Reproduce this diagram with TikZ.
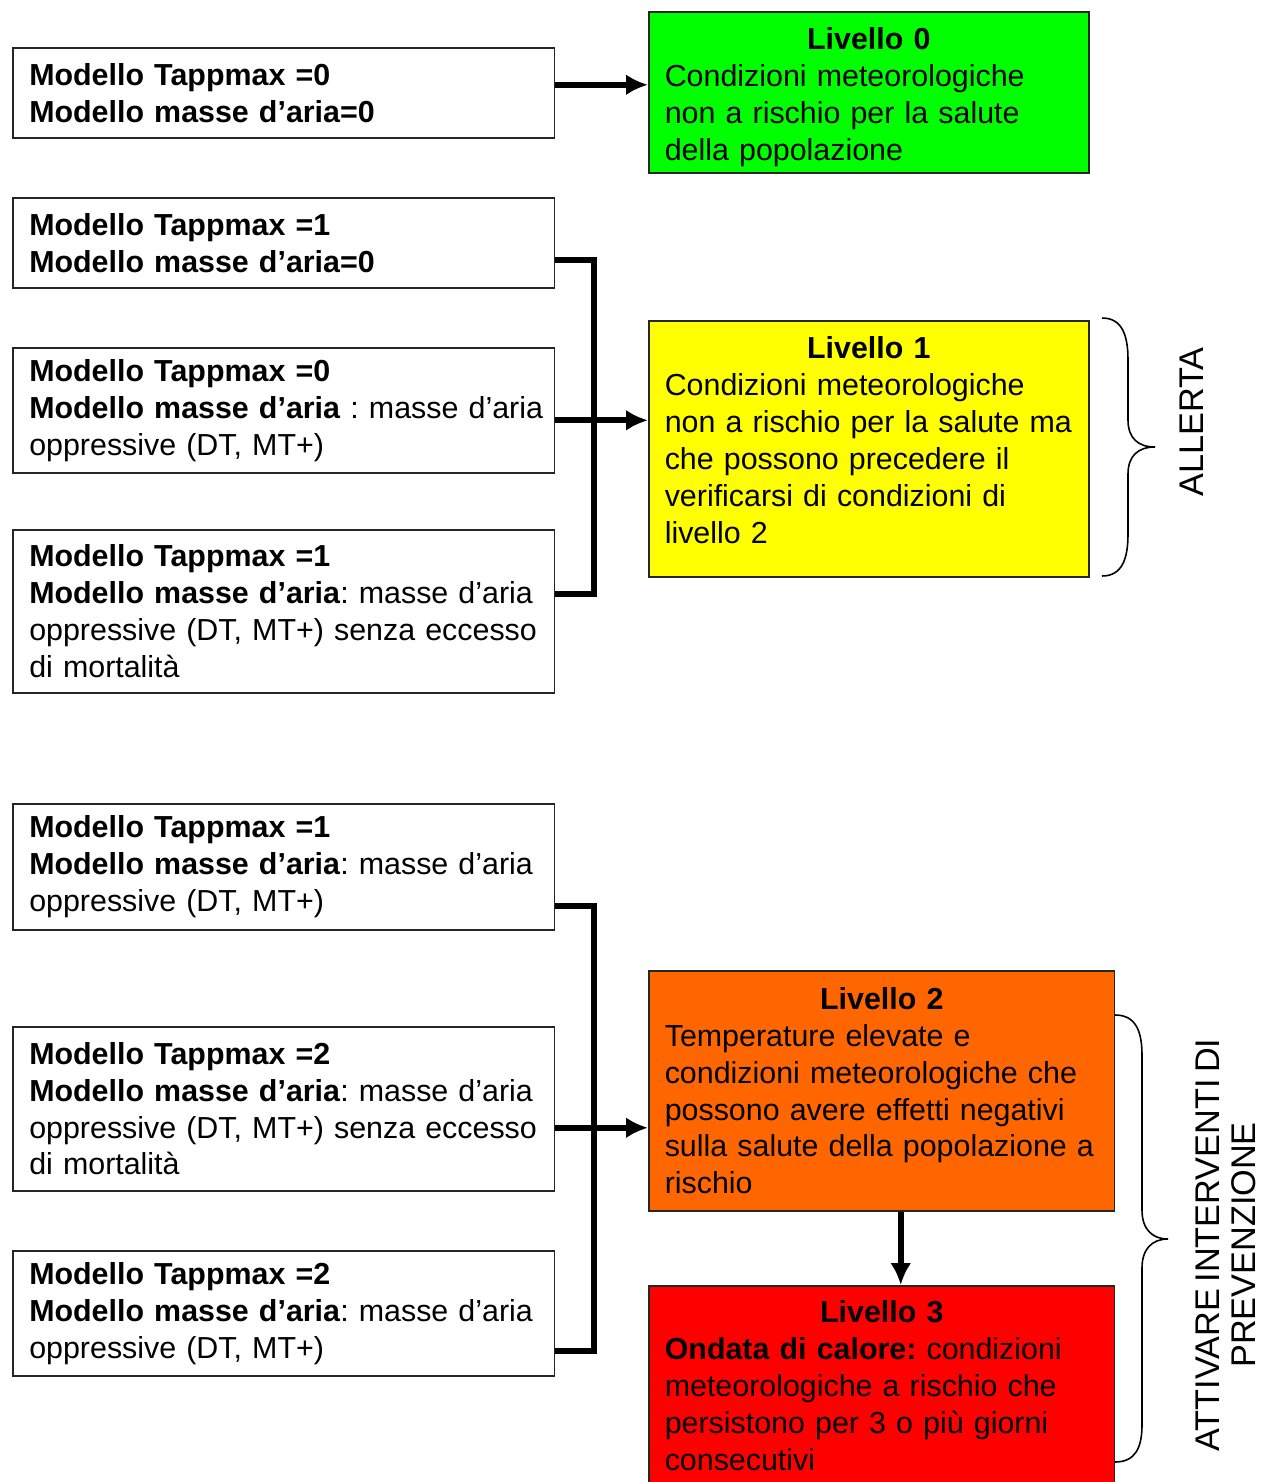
\documentclass[tikz,border=0pt]{standalone}
\usepackage{fontspec}
\setmainfont{Liberation Sans}[WordSpace=0.7]
\usetikzlibrary{arrows.meta,calc}
\definecolor{LevZeroClr}{rgb}{0,1,0}
\definecolor{LevOneClr}{rgb}{1,1,0}
\definecolor{LevTwoClr}{rgb}{1,0.4,0}
\definecolor{LevThreeClr}{rgb}{1,0,0}

\begin{document}
\frenchspacing
\begin{tikzpicture}[x=0.02cm,y=-0.02cm,
  font=\fontsize{17.3}{21}\selectfont\frenchspacing,
  modbox/.style={draw=black!85,line width=0.9pt,anchor=north west,align=left,
    inner xsep=0.33cm,inner ysep=0pt,text width=10.18cm,minimum width=10.84cm},
  levbox/.style={modbox,inner xsep=0.32cm},
  bar/.style={line width=3.3pt,line join=miter},
  conn/.style={bar,-{Latex[length=0.44cm,width=0.42cm]}},
  brc/.style={line width=0.9pt}]
\useasboundingbox (0,0) rectangle (1265,1482);
\clip (0,0) rectangle (1265,1482);

% left column
\node[modbox,minimum height=1.8cm] (a) at (12,47)
  {\textbf{Modello Tappmax =0}\\\textbf{Modello masse d’aria=0}};
\node[modbox,minimum height=1.8cm] (b) at (12,197)
  {\textbf{Modello Tappmax =1}\\\textbf{Modello masse d’aria=0}};
\node[modbox,minimum height=2.5cm] (c) at (12,347)
  {\textbf{Modello Tappmax =0}\\\mbox{\textbf{Modello masse d’aria} : masse d’aria}\\oppressive (DT, MT+)};
\node[modbox,minimum height=3.26cm] (d) at (12,529)
  {\textbf{Modello Tappmax =1}\\\mbox{\textbf{Modello masse d’aria}: masse d’aria}\\\mbox{oppressive (DT, MT+) senza eccesso}\\di mortalità};
\node[modbox,minimum height=2.52cm] (e) at (12,803)
  {\textbf{Modello Tappmax =1}\\\mbox{\textbf{Modello masse d’aria}: masse d’aria}\\oppressive (DT, MT+)};
\node[modbox,minimum height=3.28cm] (f) at (12,1026)
  {\textbf{Modello Tappmax =2}\\\mbox{\textbf{Modello masse d’aria}: masse d’aria}\\\mbox{oppressive (DT, MT+) senza eccesso}\\di mortalità};
\node[modbox,minimum height=2.5cm] (g) at (12,1250)
  {\textbf{Modello Tappmax =2}\\\mbox{\textbf{Modello masse d’aria}: masse d’aria}\\oppressive (DT, MT+)};

% levels
\node[levbox,fill=LevZeroClr,text width=8.16cm,minimum width=8.8cm,minimum height=3.22cm] (l0) at (648,11)
  {\makebox[\linewidth]{\textbf{Livello 0}}\\Condizioni meteorologiche\\non a rischio per la  salute\\della popolazione\\[-0.82cm]\mbox{}};
\node[levbox,fill=LevOneClr,text width=8.16cm,minimum width=8.8cm,minimum height=5.12cm] (l1) at (648,320)
  {\makebox[\linewidth]{\textbf{Livello 1}}\\Condizioni meteorologiche\\non a rischio per la salute ma\\che possono precedere il\\verificarsi di condizioni di\\livello 2\\[-0.38cm]\mbox{}};
\node[levbox,fill=LevTwoClr,text width=8.68cm,minimum width=9.32cm,minimum height=4.8cm] (l2) at (648,970)
  {\makebox[\linewidth]{\textbf{Livello 2}}\\Temperature elevate e\\condizioni meteorologiche che\\possono avere effetti negativi\\\mbox{sulla salute della popolazione a}\\rischio};
\node[levbox,fill=LevThreeClr,text width=8.68cm,minimum width=9.32cm,minimum height=4cm] (l3) at (648,1285)
  {\makebox[\linewidth]{\textbf{Livello 3}}\\\textbf{Ondata di calore:} condizioni\\meteorologiche a rischio che\\persistono per 3 o più giorni\\consecutivi};

% connectors
\coordinate (aOut) at ($(a.east)+(0,-8)$);
\draw[conn] (aOut) -- (aOut -| l0.west);

\coordinate (spineA) at (594,0);
\coordinate (bOut) at ($(b.east)+(0,17)$);
\coordinate (cOut) at ($(c.east)+(0,10)$);
\coordinate (dOut) at ($(d.east)+(0,-17)$);
\draw[bar] (bOut) -| (dOut -| spineA) -- (dOut);
\draw[conn] (cOut) -- (cOut -| l1.west);

\coordinate (eOut) at ($(e.east)+(0,39)$);
\coordinate (fOut) at ($(f.east)+(0,19)$);
\coordinate (gOut) at ($(g.east)+(0,38)$);
\draw[bar] (eOut) -| (gOut -| spineA) -- (gOut);
\draw[conn] (fOut) -- (fOut -| l2.west);

\draw[conn] ($(l2.south)+(19,0)$) -- ($(l3.north)+(19,0)$);

% braces
\draw[brc] (1102,318) .. controls (1122,318) and (1128,335) .. (1128,360) -- (1128,420)
  .. controls (1128,438) and (1138,447) .. (1155,447)
  .. controls (1138,447) and (1128,456) .. (1128,474) -- (1128,534)
  .. controls (1128,559) and (1122,576) .. (1102,576);
\node[rotate=90,font=\fontsize{19.5}{21}\selectfont] (allerta) at (1192,422) {ALLERTA};

\draw[brc] (1115,1015) .. controls (1135,1015) and (1142,1030) .. (1142,1055) -- (1142,1210)
  .. controls (1142,1229) and (1152,1239) .. (1168,1239)
  .. controls (1152,1239) and (1142,1249) .. (1142,1268) -- (1142,1425)
  .. controls (1142,1448) and (1135,1462) .. (1115,1462);
\node[rotate=90,align=center,font=\fontsize{19.5}{20.5}\selectfont] (attivare) at (1226,1245)
  {ATTIVARE INTERVENTI DI\\PREVENZIONE};
\end{tikzpicture}
\end{document}
